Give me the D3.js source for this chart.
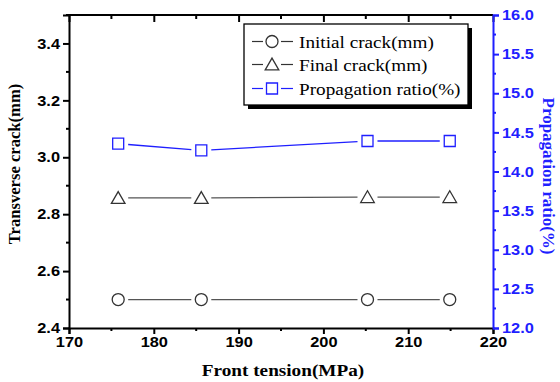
<!DOCTYPE html>
<html>
<head>
<meta charset="utf-8">
<script src="https://cdn.jsdelivr.net/npm/d3@7/dist/d3.min.js"></script>
<style>
  html, body { margin: 0; padding: 0; background: #fff; }
  svg { display: block; }
</style>
</head>
<body>
<svg id="chart" width="560" height="382"></svg>
<script>
// Front tension (MPa) for each specimen
const tension = [175.8, 185.6, 205.2, 214.9];
// Transverse crack lengths (mm)
const initialCrack = [2.50, 2.50, 2.50, 2.50];
const finalCrack = [2.857, 2.857, 2.86, 2.86];
// Propagation ratio (%)
const propagationRatio = [14.355, 14.27, 14.39, 14.39];

const xTicks = [170, 180, 190, 200, 210, 220];
const yLeftTicks = [2.4, 2.6, 2.8, 3.0, 3.2, 3.4];
const yRightTicks = [12.0, 12.5, 13.0, 13.5, 14.0, 14.5, 15.0, 15.5, 16.0];

const legendLabels = ["Initial crack(mm)", "Final crack(mm)", "Propagation ratio(%)"];

const BLUE = "#1f1fff";
const GREY = "#555";
const WIDEN = 1.13; // horizontal widening of upright text

const svg = d3.select("#chart");
const m = { left: 69, right: 493, top: 15, bottom: 328 };

const x = d3.scaleLinear().domain([170, 220]).range([m.left, m.right]);
const yL = d3.scaleLinear().domain([2.4, 3.5]).range([m.bottom, m.top]);
const yR = d3.scaleLinear().domain([12, 16]).range([m.bottom, m.top]);

const tickFont = "bold 14.5px 'Liberation Sans', Arial, sans-serif";

// widen a text selection horizontally around its own anchor point
function widen(sel, s) {
  sel.each(function () {
    const t = d3.select(this);
    const tx = +(t.attr("x") || 0);
    const ty = +(t.attr("y") || 0);
    t.attr("x", 0).attr("y", 0).attr("transform", `translate(${tx},${ty}) scale(${s},1)`);
  });
}

function steps(lo, hi, step) {
  const out = [];
  for (let v = lo; v <= hi + 1e-9; v += step) out.push(+v.toFixed(4));
  return out;
}

// bottom axis (outward ticks)
const gx = svg.append("g").attr("transform", `translate(0,${m.bottom})`);
gx.call(d3.axisBottom(x).tickValues(xTicks).tickSize(6).tickPadding(3).tickFormat(d3.format("d")));
gx.append("g").selectAll("line")
  .data(steps(175, 215, 10))
  .join("line").attr("x1", d => x(d)).attr("x2", d => x(d)).attr("y1", 0).attr("y2", 3)
  .attr("stroke", "#000").attr("stroke-width", 2);

// top axis (inward ticks, no labels)
const gt = svg.append("g").attr("transform", `translate(0,${m.top})`);
gt.call(d3.axisTop(x).tickValues(xTicks).tickSize(-7).tickFormat(""));
gt.append("g").selectAll("line")
  .data(steps(175, 215, 10))
  .join("line").attr("x1", d => x(d)).attr("x2", d => x(d)).attr("y1", 0).attr("y2", 4)
  .attr("stroke", "#000").attr("stroke-width", 2);

// left axis
const gl = svg.append("g").attr("transform", `translate(${m.left},0)`);
gl.call(d3.axisLeft(yL).tickValues(yLeftTicks).tickSize(6).tickPadding(3).tickFormat(d3.format(".1f")));
gl.append("g").selectAll("line")
  .data(steps(2.5, 3.5, 0.2))
  .join("line").attr("y1", d => yL(d)).attr("y2", d => yL(d)).attr("x1", 0).attr("x2", -3)
  .attr("stroke", "#000").attr("stroke-width", 2);

// right axis (blue)
const gr = svg.append("g").attr("transform", `translate(${m.right},0)`);
gr.call(d3.axisRight(yR).tickValues(yRightTicks).tickSize(6).tickPadding(3).tickFormat(d3.format(".1f")));
gr.append("g").selectAll("line")
  .data(steps(12.25, 15.75, 0.5))
  .join("line").attr("y1", d => yR(d)).attr("y2", d => yR(d)).attr("x1", 0).attr("x2", 3)
  .attr("stroke", BLUE).attr("stroke-width", 2);

[gx, gt, gl].forEach(g => {
  g.selectAll(".domain").attr("stroke", "#000").attr("stroke-width", 2);
  g.selectAll(".tick line").attr("stroke", "#000").attr("stroke-width", 2);
  g.selectAll("text").style("font", tickFont).attr("fill", "#000");
});
gr.selectAll(".domain").attr("stroke", BLUE).attr("stroke-width", 2);
gr.selectAll(".tick line").attr("stroke", BLUE).attr("stroke-width", 2);
gr.selectAll("text").style("font", tickFont).attr("fill", BLUE);
gt.selectAll(".domain").attr("d", `M${m.left},0H${m.right}`);
[gx, gl, gr].forEach(g => widen(g.selectAll(".tick text"), WIDEN));

// axis titles
const serif = "'Liberation Serif', 'Times New Roman', serif";
svg.append("text").attr("x", (m.left + m.right) / 2 + 2).attr("y", 376)
  .attr("text-anchor", "middle").style("font", `bold 17px ${serif}`).text("Front tension(MPa)")
  .call(widen, WIDEN);
svg.append("text").attr("transform", `translate(20,164) rotate(-90)`)
  .attr("text-anchor", "middle").style("font", `bold 16.6px ${serif}`).text("Transverse crack(mm)");
svg.append("text").attr("transform", `translate(543,176) rotate(90)`)
  .attr("text-anchor", "middle").style("font", `bold 17px ${serif}`).attr("fill", BLUE).text("Propagation ratio(%)");

// marker shapes
const sym = {
  circle: d3.symbol().type(d3.symbolCircle).size(Math.PI * 36),
  triangle: d3.symbol().type(d3.symbolTriangle).size(80),
  square: d3.symbol().type(d3.symbolSquare).size(121)
};

// line with gaps around the markers
function drawSeries(xs, ys, yScale, shape, color, lineColor, gap) {
  const pts = xs.map((v, i) => [x(v), yScale(ys[i])]);
  const g = svg.append("g");
  for (let i = 0; i < pts.length - 1; i++) {
    const [x0, y0] = pts[i], [x1, y1] = pts[i + 1];
    const len = Math.hypot(x1 - x0, y1 - y0);
    const ux = (x1 - x0) / len, uy = (y1 - y0) / len;
    g.append("line")
      .attr("x1", x0 + ux * gap).attr("y1", y0 + uy * gap)
      .attr("x2", x1 - ux * gap).attr("y2", y1 - uy * gap)
      .attr("stroke", lineColor).attr("stroke-width", 1.3);
  }
  g.selectAll("path").data(pts).join("path")
    .attr("transform", d => `translate(${d[0]},${d[1] + (shape === "triangle" ? 1.5 : 0)})`)
    .attr("d", sym[shape]()).attr("fill", "#fff").attr("stroke", color).attr("stroke-width", 1.3);
}

drawSeries(tension, initialCrack, yL, "circle", "#333", GREY, 10);
drawSeries(tension, finalCrack, yL, "triangle", "#333", GREY, 10);
drawSeries(tension, propagationRatio, yR, "square", BLUE, BLUE, 10);

// legend
const lg = svg.append("g");
const box = { x: 244, y: 24, w: 224, h: 81 };
lg.append("rect").attr("x", box.x + 4).attr("y", box.y + 4).attr("width", box.w).attr("height", box.h).attr("fill", "#000");
lg.append("rect").attr("x", box.x).attr("y", box.y).attr("width", box.w).attr("height", box.h)
  .attr("fill", "#fff").attr("stroke", "#000").attr("stroke-width", 1.3);
const legendItems = [
  { shape: "circle", color: "#333", line: "#333" },
  { shape: "triangle", color: "#333", line: "#333" },
  { shape: "square", color: BLUE, line: BLUE }
];
const rowY = [41.5, 64.5, 88.5];
legendItems.forEach((it, i) => {
  const cy = rowY[i];
  lg.append("line").attr("x1", 252).attr("x2", 263).attr("y1", cy).attr("y2", cy).attr("stroke", it.line).attr("stroke-width", 1.2);
  lg.append("line").attr("x1", 281).attr("x2", 293).attr("y1", cy).attr("y2", cy).attr("stroke", it.line).attr("stroke-width", 1.2);
  lg.append("path").attr("transform", `translate(272,${cy + (it.shape === "triangle" ? 1.5 : 0)})`)
    .attr("d", sym[it.shape]()).attr("fill", "#fff").attr("stroke", it.color).attr("stroke-width", 1.3);
  lg.append("text").attr("x", 299).attr("y", cy + 6)
    .style("font", `17px ${serif}`).attr("fill", "#000")
    .text(legendLabels[i])
    .call(widen, WIDEN);
});
</script>
</body>
</html>
